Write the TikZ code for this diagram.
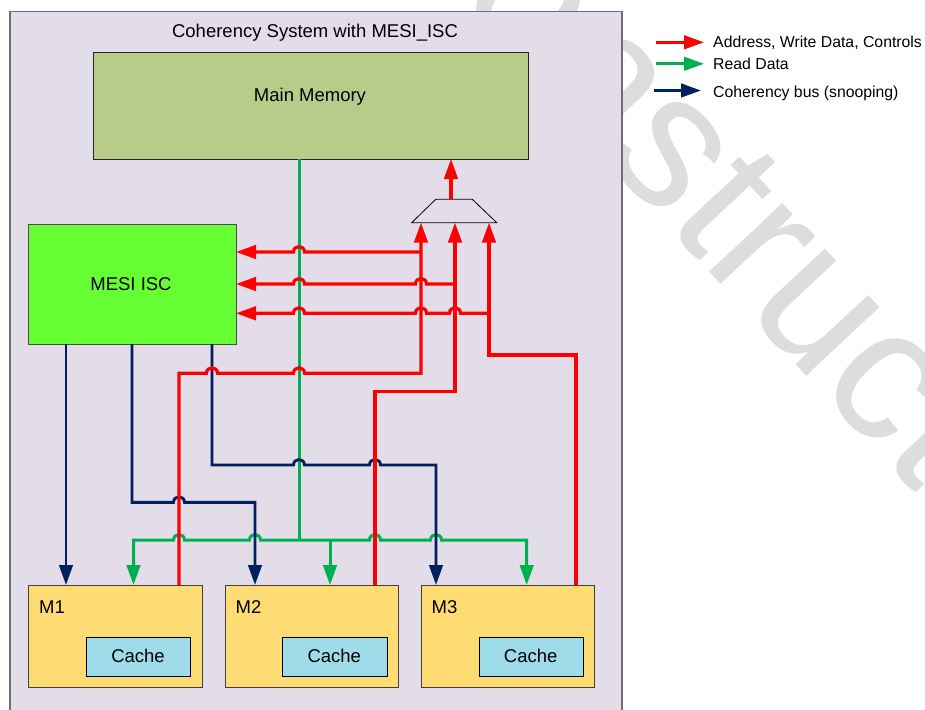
\documentclass[tikz,border=0pt]{standalone}
\usepackage{fontspec}
\setmainfont{Liberation Sans}
\usetikzlibrary{arrows.meta}

\definecolor{sysbg}{RGB}{226,221,233}
\definecolor{sysline}{RGB}{110,108,116}
\definecolor{memfill}{RGB}{184,204,138}
\definecolor{iscfill}{RGB}{102,255,51}
\definecolor{modfill}{RGB}{255,220,115}
\definecolor{cachefill}{RGB}{157,220,232}
\definecolor{busred}{RGB}{255,0,0}
\definecolor{busgreen}{RGB}{0,176,80}
\definecolor{busnavy}{RGB}{0,32,96}
\definecolor{wmgray}{RGB}{221,221,221}

% line hops (upward semicircles) on horizontal runs
\newcommand\hopright[2]{-- ({#1-5.5},#2) .. controls ({#1-5.5},{#2-7.3}) and ({#1+5.5},{#2-7.3}) .. ({#1+5.5},#2)}
\newcommand\hopleft[2]{-- ({#1+5.5},#2) .. controls ({#1+5.5},{#2-7.3}) and ({#1-5.5},{#2-7.3}) .. ({#1-5.5},#2)}

\begin{document}
\begin{tikzpicture}[x=1pt,y=-1pt,
  blk/.style={draw, rectangle, inner sep=0pt, anchor=north west},
  lbl/.style={font=\fontsize{18.5}{22}\selectfont, inner sep=0pt, anchor=base},
  lgd/.style={font=\fontsize{15.8}{19}\selectfont, inner sep=0pt, anchor=base west},
  tip/.style={-{Triangle[length=20pt,width=13.5pt]}},
  rbus/.style={draw=busred, line width=3.2pt},
  gbus/.style={draw=busgreen, line width=3pt},
  nbus/.style={draw=busnavy, line width=2.9pt},
  modbox/.style={blk, fill=modfill, draw=black!75, line width=1pt, minimum width=173.5pt, minimum height=101.7pt},
  cachebox/.style={blk, fill=cachefill, draw=black, line width=1pt, minimum width=104.5pt, minimum height=38.7pt}
]
\useasboundingbox (0,0) rectangle (925,709);
\fill[white] (0,0) rectangle (925,709);

% watermark behind the drawing
\begin{scope}
  \clip (0,0) rectangle (925,709);
  \node[rotate=-47, anchor=base west, inner sep=0pt, text=wmgray,
        font=\fontsize{190}{228}\selectfont] (wm) at (362,-101) {Construction};
\end{scope}

% system frame
\begin{scope}
  \clip (0,0) rectangle (925,709);
  \node[blk, fill=sysbg, draw=sysline, line width=1.5pt,
        minimum width=612pt, minimum height=720pt] (sys) at (9,11) {};
\end{scope}
\node[lbl] (title) at (315,37.7) {Coherency System with MESI\_ISC};

% blocks
\node[blk, fill=memfill, draw=black!85, line width=1pt,
      minimum width=435.5pt, minimum height=107pt] (mem) at (92.5,52) {};
\node[lbl] (memlbl) at (310,101) {Main Memory};

\node[blk, fill=iscfill, draw=black!70, line width=1pt,
      minimum width=208pt, minimum height=120.5pt] (isc) at (28,223.5) {};
\node[lbl] (isclbl) at (131,290.6) {MESI ISC};

\node[modbox] (m1) at (28.4,585) {};
\node[modbox] (m2) at (224.7,585) {};
\node[modbox] (m3) at (420.7,585) {};
\node[lbl, anchor=base west] (m1lbl) at (39,613.6) {M1};
\node[lbl, anchor=base west] (m2lbl) at (235.5,613.6) {M2};
\node[lbl, anchor=base west] (m3lbl) at (431.4,613.6) {M3};

\node[cachebox] (c1) at (85.8,637.3) {};
\node[cachebox] (c2) at (282.1,637.3) {};
\node[cachebox] (c3) at (478.5,637.3) {};
\node[lbl] (c1lbl) at (138,662.3) {Cache};
\node[lbl] (c2lbl) at (334.3,662.3) {Cache};
\node[lbl] (c3lbl) at (530.7,662.3) {Cache};

% address multiplexer
\draw[black, line width=0.8pt] (411.7,222.7) -- (435.7,199.3) -- (472.3,199.3) -- (496.7,222.7) -- cycle;
\coordinate (muxout) at (451,199.3);
\coordinate (muxa) at (421,222.7);
\coordinate (muxb) at (455,222.7);
\coordinate (muxc) at (489,222.7);

% ports
\coordinate (memin) at (451,159);
\coordinate (memout) at (299,159);
\coordinate (iscn1) at (66,344);
\coordinate (iscn2) at (132,344);
\coordinate (iscn3) at (212,344);
\coordinate (m1n) at (66,585);   \coordinate (m1g) at (133.5,585); \coordinate (m1r) at (179,585);
\coordinate (m2n) at (255,585);  \coordinate (m2g) at (330,585);   \coordinate (m2r) at (375,585);
\coordinate (m3n) at (436,585);  \coordinate (m3g) at (526.7,585); \coordinate (m3r) at (576,585);

% read data
\draw[gbus] (memout) -- (299,540);
\draw[gbus, {Triangle[length=20pt,width=13.5pt]}-{Triangle[length=20pt,width=13.5pt]}]
  (m1g) -- (133.5,540) \hopright{179}{540} \hopright{255}{540} \hopright{375}{540} \hopright{436}{540}
  -- (526.7,540) -- (m3g);
\draw[gbus, tip] (330,540) -- (m2g);

% coherency bus
\draw[nbus, tip] (iscn1) -- (m1n);
\draw[nbus, tip] (iscn2) -- (132,502.3) \hopright{179}{502.3} -- (255,502.3) -- (m2n);
\draw[nbus, tip] (iscn3) -- (212,465) \hopright{299}{465} \hopright{375}{465} -- (436,465) -- (m3n);

% address, write data, controls
\draw[rbus, tip] (m1r) -- (179,373.3) \hopright{212}{373.3} \hopright{299}{373.3} -- (421,373.3) -- (muxa);
\draw[rbus, tip] (421,252) \hopleft{299}{252} -- (236,252);
\draw[rbus, tip] (m2r) -- (375,391.7) -- (455,391.7) -- (muxb);
\draw[rbus, tip] (455,284) \hopleft{421}{284} \hopleft{299}{284} -- (236,284);
\draw[rbus, tip] (m3r) -- (576,355) -- (489,355) -- (muxc);
\draw[rbus, tip] (489,313.3) \hopleft{455}{313.3} \hopleft{421}{313.3} \hopleft{299}{313.3} -- (236,313.3);
\draw[rbus, tip] (muxout) -- (memin);

% legend
\coordinate (lg1a) at (656,42.3); \coordinate (lg1b) at (704,42.3);
\coordinate (lg2a) at (656,63.8); \coordinate (lg2b) at (704,63.8);
\coordinate (lg3a) at (654,90.5); \coordinate (lg3b) at (701,90.5);
\draw[rbus, tip] (lg1a) -- (lg1b);
\draw[gbus, tip] (lg2a) -- (lg2b);
\draw[nbus, tip] (lg3a) -- (lg3b);
\node[lgd] (lgt1) at (713,47.4) {Address, Write Data, Controls};
\node[lgd] (lgt2) at (713,70) {Read Data};
\node[lgd] (lgt3) at (713,97.4) {Coherency bus (snooping)};
\end{tikzpicture}
\end{document}
